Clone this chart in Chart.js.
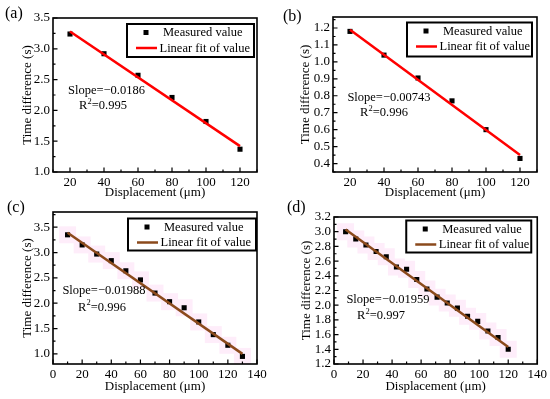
<!DOCTYPE html>
<html><head><meta charset="utf-8">
<script src="https://cdn.jsdelivr.net/npm/chart.js@4/dist/chart.umd.min.js"></script>
<style>
html,body{margin:0;padding:0;background:#fff;}
body{width:550px;height:399px;position:relative;overflow:hidden;}
canvas{position:absolute;}
</style></head>
<body>
<canvas id="ca" width="275" height="200" style="left:0;top:0"></canvas>
<canvas id="cb" width="275" height="200" style="left:275px;top:0"></canvas>
<canvas id="cc" width="275" height="199" style="left:0;top:200px"></canvas>
<canvas id="cd" width="275" height="199" style="left:275px;top:200px"></canvas>
<script>
// ---------- data ----------
const xA = [20, 40, 60, 80, 100, 120];
const yA = [3.24, 2.92, 2.57, 2.21, 1.82, 1.37];
const fitXA = [20, 120];
const fitYA = [3.28, 1.42];

const xB = [20, 40, 60, 80, 100, 120];
const yB = [1.18, 1.04, 0.905, 0.77, 0.60, 0.43];
const fitXB = [20, 120];
const fitYB = [1.19, 0.45];

const xC = [10, 20, 30, 40, 50, 60, 70, 80, 90, 100, 110, 120, 130];
const yC = [3.35, 3.15, 2.97, 2.84, 2.64, 2.46, 2.20, 2.03, 1.91, 1.63, 1.38, 1.17, 0.95];
const fitXC = [10, 130];
const fitYC = [3.39, 1.00];

const xD = [8, 15, 22, 29, 36, 43, 50, 57, 64, 71, 78, 85, 92, 99, 106, 113, 120];
const yD = [3.00, 2.90, 2.82, 2.73, 2.66, 2.52, 2.49, 2.35, 2.22, 2.11, 2.03, 1.96, 1.85, 1.78, 1.65, 1.56, 1.40];
const fitXD = [8, 120];
const fitYD = [3.03, 1.43];

const xTicksAB = [20, 40, 60, 80, 100, 120];
const xTicksCD = [0, 20, 40, 60, 80, 100, 120, 140];
const yTicksA = [1.0, 1.5, 2.0, 2.5, 3.0, 3.5];
const yTicksB = [0.4, 0.5, 0.6, 0.7, 0.8, 0.9, 1.0, 1.1, 1.2];
const yTicksC = [1.0, 1.5, 2.0, 2.5, 3.0, 3.5];
const yTicksD = [1.2, 1.4, 1.6, 1.8, 2.0, 2.2, 2.4, 2.6, 2.8, 3.0, 3.2];

const panelLabels = ['(a)', '(b)', '(c)', '(d)'];
const slopes = ['Slope=\u22120.0186', 'Slope=\u22120.00743', 'Slope=\u22120.01988', 'Slope=\u22120.01959'];
const r2s = ['0.995', '0.996', '0.996', '0.997'];
const seriesNames = ['Measured value', 'Linear fit of value'];
const xTitle = 'Displacement (\u03bcm)';
const yTitle = 'Time difference (s)';

// ---------- drawing ----------
const FONT = "'Liberation Serif','Times New Roman',serif";
const FS = 12.5;
const TFS = 13;

const deco = {
  id: 'deco',
  afterDatasetsDraw(chart, args, o) {
    const ctx = chart.ctx, a = chart.chartArea, xs = chart.scales.x, ys = chart.scales.y;
    ctx.save();
    // inward ticks
    ctx.strokeStyle = '#000';
    ctx.lineWidth = 1.2;
    ctx.beginPath();
    const xStart = Math.ceil(xs.min / o.xMinor - 1e-9);
    for (let i = xStart; i * o.xMinor <= xs.max + 1e-9; i++) {
      const v = i * o.xMinor;
      const px = xs.getPixelForValue(v);
      const major = o.xTicks.some(t => Math.abs(t - v) < 1e-6);
      const len = major ? 4.5 : 2.5;
      ctx.moveTo(px, a.bottom); ctx.lineTo(px, a.bottom - len);
    }
    const yStart = Math.ceil(ys.min / o.yMinor - 1e-9);
    for (let i = yStart; i * o.yMinor <= ys.max + 1e-9; i++) {
      const v = i * o.yMinor;
      const py = ys.getPixelForValue(v);
      const major = o.yTicks.some(t => Math.abs(t - v) < 1e-6);
      const len = major ? 4.5 : 2.5;
      ctx.moveTo(a.left, py); ctx.lineTo(a.left + len, py);
    }
    ctx.stroke();
    // frame
    ctx.lineWidth = 1.6;
    ctx.strokeRect(a.left, a.top, a.right - a.left, a.bottom - a.top);

    // legend box
    const lg = o.legend;
    const bx = a.right - lg.right - lg.w, by = a.top + lg.top;
    ctx.fillStyle = '#fff';
    ctx.fillRect(bx, by, lg.w, lg.h);
    ctx.lineWidth = 2;
    ctx.strokeStyle = '#000';
    ctx.strokeRect(bx, by, lg.w, lg.h);
    const ds = chart.data.datasets;
    ctx.font = FS + 'px ' + FONT;
    ctx.textBaseline = 'middle';
    ctx.textAlign = 'left';
    ctx.fillStyle = '#000';
    ctx.fillRect(bx + 19 - 2.5, by + 8.5 - 2.5, 5, 5);
    ctx.fillText(ds[1].label, bx + 36, by + 9);
    ctx.strokeStyle = ds[0].borderColor;
    ctx.lineWidth = 2.5;
    ctx.beginPath(); ctx.moveTo(bx + 9, by + 24); ctx.lineTo(bx + 30, by + 24); ctx.stroke();
    ctx.fillText(ds[0].label, bx + 32.5, by + 24.5);

    // slope & R^2
    ctx.textAlign = 'center';
    ctx.fillText(o.slope, o.slopePos[0], o.slopePos[1]);
    const p1 = 'R', p2 = '2', p3 = '=' + o.r2;
    const w1 = ctx.measureText(p1).width, w3 = ctx.measureText(p3).width;
    ctx.font = '8.5px ' + FONT;
    const w2 = ctx.measureText(p2).width;
    const tot = w1 + w2 + w3;
    let x0 = o.r2Pos[0] - tot / 2;
    const y0 = o.r2Pos[1];
    ctx.textAlign = 'left';
    ctx.fillText(p2, x0 + w1, y0 - 4.5);
    ctx.font = FS + 'px ' + FONT;
    ctx.fillText(p1, x0, y0);
    ctx.fillText(p3, x0 + w1 + w2, y0);

    // panel label
    ctx.font = '16px ' + FONT;
    ctx.fillText(o.label, o.labelPos[0], o.labelPos[1]);
    ctx.restore();
  }
};

function makeChart(id, c) {
  const datasets = [
    { label: seriesNames[1], data: c.fitX.map((x, i) => ({ x, y: c.fitY[i] })),
      showLine: true, borderColor: c.fitColor, borderWidth: 2.5, pointRadius: 0, fill: false },
    { label: seriesNames[0], data: c.x.map((x, i) => ({ x, y: c.y[i] })),
      pointStyle: 'rect', pointRadius: 3.6, backgroundColor: '#000', borderWidth: 0 }
  ];
  if (c.band) {
    datasets.push({ label: 'band', data: c.x.map((x, i) => ({ x, y: c.y[i] })),
      pointStyle: 'rect', pointRadius: 12, backgroundColor: 'rgb(254,237,250)', borderWidth: 0 });
  }
  const tickFont = { family: FONT, size: TFS };
  const titleFont = { family: FONT, size: TFS };
  return new Chart(document.getElementById(id), {
    type: 'scatter',
    data: { datasets },
    options: {
      responsive: false, animation: false, devicePixelRatio: 1,
      layout: { padding: { left: 0, top: c.area.T, right: c.W - c.area.R, bottom: c.padB } },
      plugins: {
        legend: { display: false }, tooltip: { enabled: false },
        deco: { xMinor: c.xMinor, yMinor: c.yMinor, xTicks: c.xTicks, yTicks: c.yTicks,
          legend: c.legend, slope: c.slope, r2: c.r2, slopePos: c.slopePos, r2Pos: c.r2Pos,
          label: c.label, labelPos: c.labelPos }
      },
      scales: {
        x: {
          type: 'linear', min: c.xMin, max: c.xMax,
          grid: { display: false, drawTicks: false }, border: { display: false },
          afterBuildTicks: s => { s.ticks = c.xTicks.map(v => ({ value: v })); },
          afterFit: s => { s.height = c.H - c.padB - c.area.B; },
          ticks: { color: '#000', font: tickFont, padding: 3, maxRotation: 0, autoSkip: false,
            callback: v => String(v) },
          title: { display: true, text: xTitle, color: '#000', font: titleFont, padding: { top: 0, bottom: c.xTitlePad } }
        },
        y: {
          type: 'linear', min: c.yMin, max: c.yMax,
          grid: { display: false, drawTicks: false }, border: { display: false },
          afterBuildTicks: s => { s.ticks = c.yTicks.map(v => ({ value: v })); },
          afterFit: s => { s.width = c.area.L; },
          ticks: { color: '#000', font: tickFont, padding: 3, autoSkip: false,
            callback: v => Number(v).toFixed(1) },
          title: { display: true, text: yTitle, color: '#000', font: titleFont, padding: { top: c.yTitlePad, bottom: 0 } }
        }
      }
    },
    plugins: [deco]
  });
}

makeChart('ca', {
  x: xA, y: yA, fitX: fitXA, fitY: fitYA, fitColor: '#ff0000', band: false,
  xMin: 10, xMax: 130, yMin: 1.0, yMax: 3.5, xTicks: xTicksAB, yTicks: yTicksA, xMinor: 10, yMinor: 0.25,
  W: 275, H: 200, area: { L: 53, R: 257, T: 18, B: 172 }, padB: 0, xTitlePad: 0, yTitlePad: 20,
  legend: { right: 3, top: 6, w: 127, h: 33 },
  slope: slopes[0], r2: r2s[0], slopePos: [106.5, 91], r2Pos: [103, 106],
  label: panelLabels[0], labelPos: [5, 14]
});
makeChart('cb', {
  x: xB, y: yB, fitX: fitXB, fitY: fitYB, fitColor: '#ff0000', band: false,
  xMin: 10, xMax: 130, yMin: 0.35, yMax: 1.265, xTicks: xTicksAB, yTicks: yTicksB, xMinor: 10, yMinor: 0.05,
  W: 275, H: 200, area: { L: 58, R: 262, T: 17, B: 172 }, padB: 0, xTitlePad: 0, yTitlePad: 23,
  legend: { right: 5, top: 5.5, w: 125, h: 34 },
  slope: slopes[1], r2: r2s[1], slopePos: [114, 98], r2Pos: [109, 113],
  label: panelLabels[1], labelPos: [8, 16.5]
});
makeChart('cc', {
  x: xC, y: yC, fitX: fitXC, fitY: fitYC, fitColor: '#8b4a1c', band: true,
  xMin: 0, xMax: 140, yMin: 0.8, yMax: 3.8, xTicks: xTicksCD, yTicks: yTicksC, xMinor: 10, yMinor: 0.25,
  W: 275, H: 199, area: { L: 53, R: 257, T: 12, B: 164 }, padB: 0, xTitlePad: 5, yTitlePad: 20,
  legend: { right: 1, top: 6.5, w: 128, h: 32 },
  slope: slopes[2], r2: r2s[2], slopePos: [104, 91], r2Pos: [102, 107.5],
  label: panelLabels[2], labelPos: [7, 7.5]
});
makeChart('cd', {
  x: xD, y: yD, fitX: fitXD, fitY: fitYD, fitColor: '#8b4a1c', band: true,
  xMin: 0, xMax: 140, yMin: 1.2, yMax: 3.2, xTicks: xTicksCD, yTicks: yTicksD, xMinor: 10, yMinor: 0.1,
  W: 275, H: 199, area: { L: 59, R: 263, T: 17, B: 164 }, padB: 0, xTitlePad: 5, yTitlePad: 23.5,
  legend: { right: 6, top: 3.5, w: 125, h: 32 },
  slope: slopes[3], r2: r2s[3], slopePos: [113, 100], r2Pos: [106, 116],
  label: panelLabels[3], labelPos: [12, 7.5]
});
</script>
</body></html>
